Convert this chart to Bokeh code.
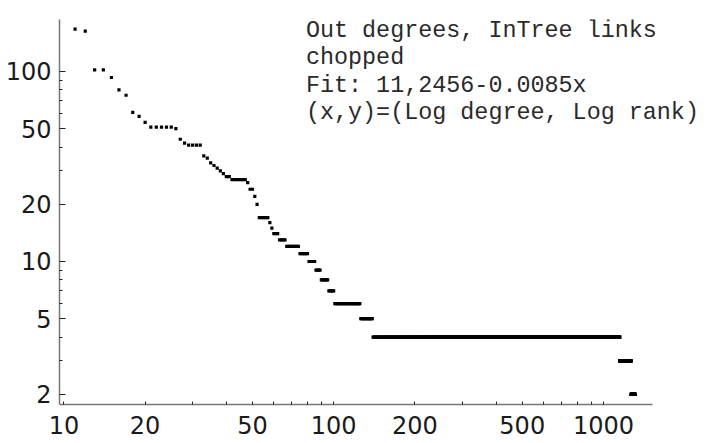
from bokeh.plotting import figure
from bokeh.models import Range1d, FixedTicker, NumeralTickFormatter, ColumnDataSource, Label
from bokeh.embed import file_html
from bokeh.resources import INLINE

# Step data: for every integer degree x, the count y; a run keeps its y from its start
# up to the next run's start - 1.
run_x_start = [11, 12, 13, 15, 16, 17, 18, 19, 20, 21,
               26, 27, 28, 29, 33, 34, 35, 36, 37, 38,
               39, 40, 42, 48, 49, 51, 52, 53, 58, 59,
               60, 63, 67, 75, 81, 86, 90, 96, 101, 126,
               140, 1150, 1266]
run_y = [167, 163, 102, 93, 80, 75, 61, 58, 54, 51,
         50, 44, 42, 41, 36, 35, 33, 32, 31, 30,
         29, 28, 27, 26, 24, 22, 20, 17, 16, 15,
         14, 13, 12, 11, 10, 9, 8, 7, 6, 5,
         4, 3, 2]
x_last = 1310

x_major = [10, 20, 50, 100, 200, 500, 1000]
x_minor = [30, 40, 60, 70, 80, 90, 300, 400, 600, 700, 800, 900]
y_major = [2, 5, 10, 20, 50, 100]
y_minor = [3, 4, 6, 7, 8, 9, 30, 40, 60, 70, 80, 90]

note_lines = ["Out degrees, InTree links",
              "chopped",
              "Fit: 11,2456-0.0085x",
              "(x,y)=(Log degree, Log rank)"]

xs, ys = [], []
ends = run_x_start[1:] + [x_last + 1]
for s, e, v in zip(run_x_start, ends, run_y):
    for d in range(s, e):
        xs.append(d)
        ys.append(v)
src = ColumnDataSource(dict(x=xs, y=ys))

x_axis_start, x_axis_end = 9.631, 1519
p = figure(width=707, height=443, output_backend="svg", toolbar_location=None,
           x_axis_type="log", y_axis_type="log",
           x_range=Range1d(x_axis_start, 2430), y_range=Range1d(1.767, 187.8),
           min_border_left=59, min_border_right=0, min_border_top=19, min_border_bottom=39)
p.outline_line_color = None
p.xgrid.visible = False
p.ygrid.visible = False
p.background_fill_color = "white"
p.border_fill_color = "white"

p.scatter("x", "y", source=src, marker="square", size=3.2,
          fill_color="black", line_color=None)

for ax, maj, mnr in ((p.xaxis[0], x_major, x_minor), (p.yaxis[0], y_major, y_minor)):
    ax.ticker = FixedTicker(ticks=maj, minor_ticks=mnr)
    ax.formatter = NumeralTickFormatter(format="0")
    ax.axis_line_color = "#777777"
    ax.axis_line_width = 1.5
    ax.major_tick_line_color = "#222222"
    ax.minor_tick_line_color = "#222222"
    ax.major_tick_out = 0
    ax.minor_tick_out = 0
    ax.major_label_text_font = "DejaVu Sans"
    ax.major_label_text_font_size = "24px"
    ax.major_label_text_color = "#1a1a1a"

p.xaxis[0].bounds = (x_axis_start, x_axis_end)
p.xaxis[0].major_tick_in = 3
p.xaxis[0].minor_tick_in = 3
p.xaxis[0].major_label_standoff = 11
p.yaxis[0].major_tick_in = 6
p.yaxis[0].minor_tick_in = 3
p.yaxis[0].major_label_standoff = 8

note_x = 78.9
note_y = [162.9, 117.2, 84.3, 60.6]
for t, yy in zip(note_lines, note_y):
    p.add_layout(Label(x=note_x, y=yy, text=t, text_font="Liberation Mono",
                       text_font_size="23.4px", text_color="#2a2a2a",
                       text_baseline="alphabetic", text_align="left"))

open("out.html", "w").write(file_html(p, INLINE))
